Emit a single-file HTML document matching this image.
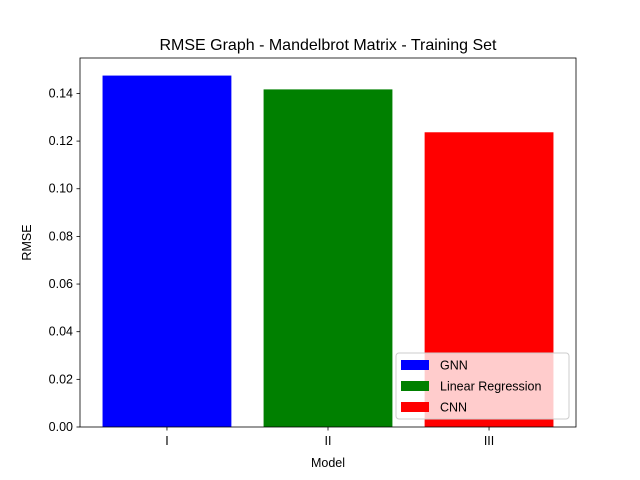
<!DOCTYPE html>
<html><head><meta charset="utf-8"><style>
body{margin:0;background:#fff;}
svg{display:block;font-family:"Liberation Sans","DejaVu Sans",sans-serif;}
</style></head><body>
<svg id="c" width="640" height="480"></svg>
<script>
const categories=["I","II","III"];
const seriesNames=["GNN","Linear Regression","CNN"];
const values=[0.1475,0.1417,0.1237];
const colors=["#0000ff","#008000","#ff0000"];
const yTicks=[0,0.02,0.04,0.06,0.08,0.10,0.12,0.14];
const yTickLabels=["0.00","0.02","0.04","0.06","0.08","0.10","0.12","0.14"];

const NS="http://www.w3.org/2000/svg";
const svg=document.getElementById('c');
const L=80,R=576,T=58,B=427;
const ymax=Math.max(...values)*1.05;
const xmin=-0.54,xmax=categories.length-1+0.54;
const X=v=>L+(v-xmin)/(xmax-xmin)*(R-L);
const Y=v=>B-v/ymax*(B-T);
function el(tag,attrs,text){const e=document.createElementNS(NS,tag);for(const k in attrs)e.setAttribute(k,attrs[k]);if(text!==undefined)e.textContent=text;svg.appendChild(e);return e;}

values.forEach((v,i)=>{
  const b=el('rect',{x:X(i-0.4),y:Y(v),width:X(i+0.4)-X(i-0.4),height:B-Y(v),fill:colors[i]});
  
  
});
const frame=el('rect',{x:L,y:T,width:R-L,height:B-T,fill:'none',stroke:'#000','stroke-width':0.8});



yTicks.forEach((t,i)=>{
  const y=Y(t);
  el('line',{x1:L-3.5,x2:L,y1:y,y2:y,stroke:'#000','stroke-width':0.8});
  const lb=el('text',{x:L-7,y:y+4,'text-anchor':'end','font-size':12.5},yTickLabels[i]);
  
  
});
categories.forEach((c,i)=>{
  const x=X(i);
  el('line',{x1:x,x2:x,y1:B,y2:B+3.5,stroke:'#000','stroke-width':0.8});
  const lb=el('text',{x:x,y:B+18,'text-anchor':'middle','font-size':12.5},c);
  
  
});
const t=el('text',{x:(L+R)/2,y:50,'text-anchor':'middle','font-size':16},'RMSE Graph - Mandelbrot Matrix - Training Set');


const xt=el('text',{x:(L+R)/2,y:467,'text-anchor':'middle','font-size':12.5},'Model');


const yt=el('text',{x:31,y:(T+B)/2,'text-anchor':'middle','font-size':12.5,transform:`rotate(-90 31 ${(T+B)/2})`},'RMSE');



const lg=el('rect',{x:396,y:353,width:173,height:66,rx:3,fill:'#fff','fill-opacity':0.8,stroke:'#ccc','stroke-width':1});


seriesNames.forEach((n,i)=>{
  const y=365+i*21;
  const p=el('rect',{x:401,y:y-5,width:28,height:10,fill:colors[i]});
  
  
  const lt=el('text',{x:440,y:y+4.5,'font-size':12.5},n);
  
  
});
</script>
</body></html>
